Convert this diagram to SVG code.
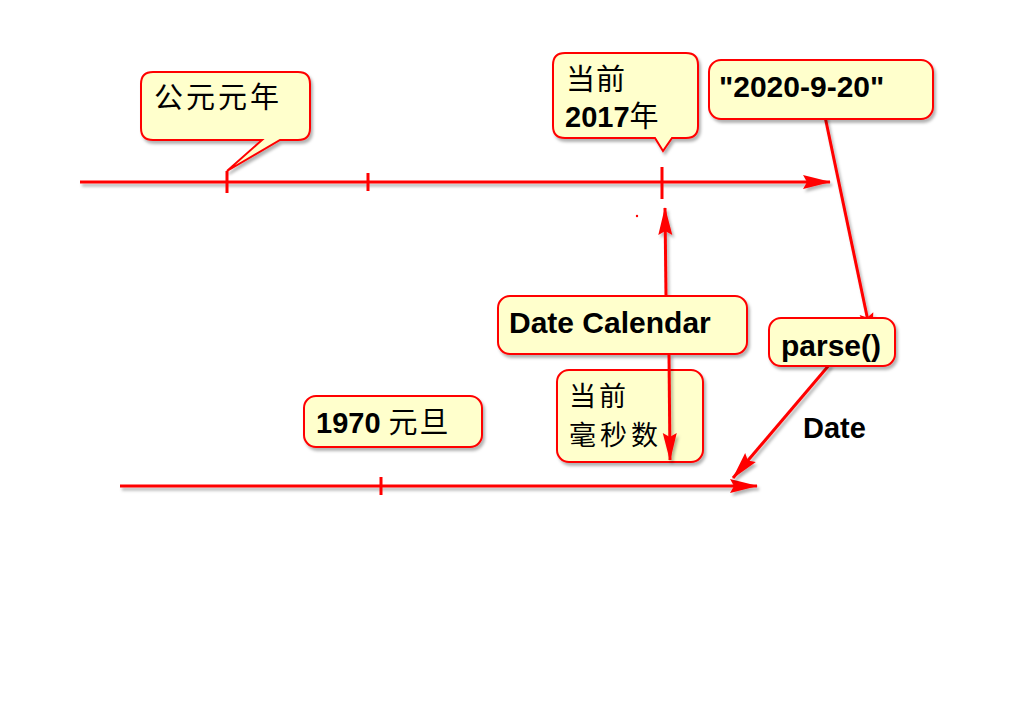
<svg xmlns="http://www.w3.org/2000/svg" width="1024" height="728" viewBox="0 0 1024 728">
<defs>
<filter id="sh" filterUnits="userSpaceOnUse" x="0" y="0" width="1024" height="728">
<feDropShadow dx="2" dy="3" stdDeviation="1.5" flood-color="#000" flood-opacity="0.3"/>
</filter>
<marker id="ah" markerUnits="userSpaceOnUse" markerWidth="28" markerHeight="14" refX="27" refY="7" orient="auto" overflow="visible">
<path d="M0,0 L28,7 L0,14 L4,7 Z" fill="#ff0000"/>
</marker>
</defs>
<style>
.box{fill:#ffffcc;stroke:#ff0000;stroke-width:2;filter:url(#sh)}
.ln{stroke:#ff0000;stroke-width:3;fill:none;filter:url(#sh)}
.tk{stroke:#ff0000;stroke-width:3;fill:none}
.t{font-family:"Liberation Sans","Noto Sans CJK SC",sans-serif;font-size:29px;fill:#000}
.b{font-weight:bold}
.big{font-size:30px}
.cj{font-family:"Noto Sans CJK SC",sans-serif;font-weight:normal}
.sm{font-size:27px}
</style>
<rect width="1024" height="728" fill="#fff"/>
<g id="connectors">
<line class="ln" x1="80" y1="182" x2="830" y2="182" marker-end="url(#ah)"/>
<line class="tk" x1="227" y1="171" x2="227" y2="193"/>
<line class="tk" x1="368" y1="173" x2="368" y2="191"/>
<line class="tk" x1="662" y1="167" x2="662" y2="199"/>
<line class="ln" x1="120" y1="486" x2="757" y2="486" marker-end="url(#ah)"/>
<line class="tk" x1="381" y1="477" x2="381" y2="495"/>
<line class="ln" x1="823" y1="107" x2="872" y2="340" marker-end="url(#ah)"/>
<line class="ln" x1="830" y1="364" x2="733" y2="478" marker-end="url(#ah)"/>
<line class="ln" x1="666" y1="296" x2="665" y2="208" marker-end="url(#ah)"/>
<circle cx="637" cy="216" r="1.2" fill="#ff0000"/>
</g>
<g id="node-gongyuan">
<path class="box" d="M153,72 H298 Q310,72 310,84 V128 Q310,140 298,140 H280 L227,171 L262,140 H153 Q141,140 141,128 V84 Q141,72 153,72 Z"/>
<text class="t cj" x="154" y="108" letter-spacing="3">公元元年</text>
</g>
<g id="node-2017">
<path class="box" d="M565,53 H686 Q698,53 698,65 V126 Q698,138 686,138 H672 L663,151 L655,138 H565 Q553,138 553,126 V65 Q553,53 565,53 Z"/>
<text class="t cj" x="566" y="90" letter-spacing="1">当前</text>
<text class="t b" x="565" y="127">2017<tspan class="cj">年</tspan></text>
</g>
<g id="node-string">
<rect class="box" x="709" y="60" width="224" height="59" rx="12"/>
<text class="t b big" x="719" y="97">"2020-9-20"</text>
</g>
<g id="node-datecal">
<rect class="box" x="498" y="296" width="249" height="58" rx="12"/>
<text class="t b big" x="509" y="333">Date Calendar</text>
</g>
<g id="node-millis">
<rect class="box" x="557" y="370" width="146" height="92" rx="12"/>
<text class="t cj sm" x="569" y="406" letter-spacing="3">当前</text>
<text class="t cj sm" x="569" y="445" letter-spacing="4">毫秒数</text>
</g>
<line class="ln" x1="669" y1="354" x2="670" y2="460" marker-end="url(#ah)"/>
<g id="node-parse">
<rect class="box" x="769" y="318" width="126" height="48" rx="12"/>
<text class="t b big" x="781" y="356">parse()</text>
</g>
<g id="node-1970">
<rect class="box" x="304" y="396" width="178" height="51" rx="12"/>
<text class="t b" x="316" y="433">1970 <tspan class="cj" letter-spacing="2">元旦</tspan></text>
</g>
<g id="label-date">
<text class="t b" x="803" y="438">Date</text>
</g>
</svg>
